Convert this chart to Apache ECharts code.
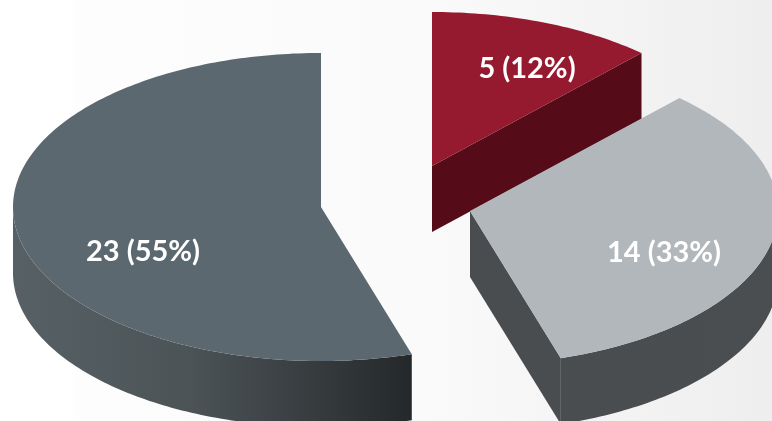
<!DOCTYPE html>
<html>
<head>
<meta charset="utf-8">
<style>html,body{margin:0;padding:0;background:#fff}#chart{width:772px;height:421px}</style>
<script src="https://cdn.jsdelivr.net/npm/echarts@6/dist/echarts.min.js"></script>
</head>
<body>
<div id="chart"></div>
<script>
// Slice values, in drawing order
const sliceValues = [23, 5, 14];
const total = sliceValues.reduce((a, b) => a + b, 0);

// Colours of each slice: top face, radial wall, rim gradient stops
const topColors = ['#5c6870', '#951a30', '#b2b7bb'];
const cutColors = ['#3a4044', '#560b18', '#4a4d4f'];
const rimColors = [
  [[0, '#576165'], [0.45, '#4b5356'], [0.75, '#373c3f'], [1, '#24282b']],
  [[0, '#560b18'], [1, '#560b18']],
  [[0, '#4a4d4f'], [1, '#4b4e50']]
];

// Disc geometry and how far each slice is pulled out of the centre
const radiusX = 308, radiusY = 154, depth = 66, stepDeg = 1;
const apexes = [[321, 207], [432, 166], [470, 211]];
const labelSpots = [[143, 252], [527, 69], [664, 253]];

const startDeg = 360 - 360 * sliceValues[0] / total;

function rimPoint(apex, deg, drop) {
  const r = deg * Math.PI / 180;
  return [apex[0] + radiusX * Math.sin(r), apex[1] - radiusY * Math.cos(r) + drop];
}

function arcPoints(apex, from, to, drop) {
  const pts = [];
  for (let d = from; d < to; d += stepDeg) pts.push(rimPoint(apex, d, drop));
  pts.push(rimPoint(apex, to, drop));
  return pts;
}

function renderSlice(params, api) {
  const i = params.dataIndex;
  const value = api.value(0);
  let from = startDeg;
  for (let k = 0; k < i; k++) from += 360 * sliceValues[k] / total;
  from = from % 360;
  const to = from + 360 * value / total;
  const apex = apexes[i];
  const below = [apex[0], apex[1] + depth];
  const children = [];

  // Radial walls facing the viewer
  [[from, Math.sin(from * Math.PI / 180) < -1e-6], [to, Math.sin(to * Math.PI / 180) > 1e-6]].forEach(([deg, visible]) => {
    if (!visible) return;
    children.push({
      type: 'polygon',
      shape: { points: [apex, rimPoint(apex, deg, 0), rimPoint(apex, deg, depth), below] },
      style: { fill: cutColors[i] }
    });
  });

  // Curved rim, only the front half of the disc shows
  const a = Math.max(from, 90), b = Math.min(to, 270);
  if (b > a) {
    const upper = arcPoints(apex, a, b, 0);
    const lower = arcPoints(apex, a, b, depth).reverse();
    const xs = upper.map(p => p[0]);
    const x0 = Math.min(...xs), x1 = Math.max(...xs);
    children.push({
      type: 'polygon',
      shape: { points: upper.concat(lower) },
      style: {
        fill: new echarts.graphic.LinearGradient(x0, 0, x1, 0,
          rimColors[i].map(s => ({ offset: s[0], color: s[1] })), true)
      }
    });
  }

  // Top face
  children.push({
    type: 'polygon',
    shape: { points: [apex].concat(arcPoints(apex, from, to, 0)) },
    style: { fill: topColors[i] }
  });

  // Value and share
  children.push({
    type: 'text',
    style: {
      x: labelSpots[i][0], y: labelSpots[i][1],
      text: value + ' (' + Math.round(value / total * 100) + '%)',
      fill: '#ffffff',
      font: '700 29px Lato, "Open Sans", sans-serif',
      align: 'center', verticalAlign: 'middle'
    }
  });
  return { type: 'group', children };
}

const chart = echarts.init(document.getElementById('chart'), null, { renderer: 'canvas' });
chart.setOption({
  animation: false,
  backgroundColor: new echarts.graphic.LinearGradient(0, 0, 1, 0, [
    { offset: 0, color: '#ffffff' },
    { offset: 0.09, color: '#ffffff' },
    { offset: 0.1, color: '#fdfdfd' },
    { offset: 0.55, color: '#fafafa' },
    { offset: 1, color: '#eeeeee' }
  ]),
  series: [{
    type: 'custom',
    coordinateSystem: 'none',
    renderItem: renderSlice,
    data: sliceValues.map(v => [v])
  }]
});
</script>
</body>
</html>
